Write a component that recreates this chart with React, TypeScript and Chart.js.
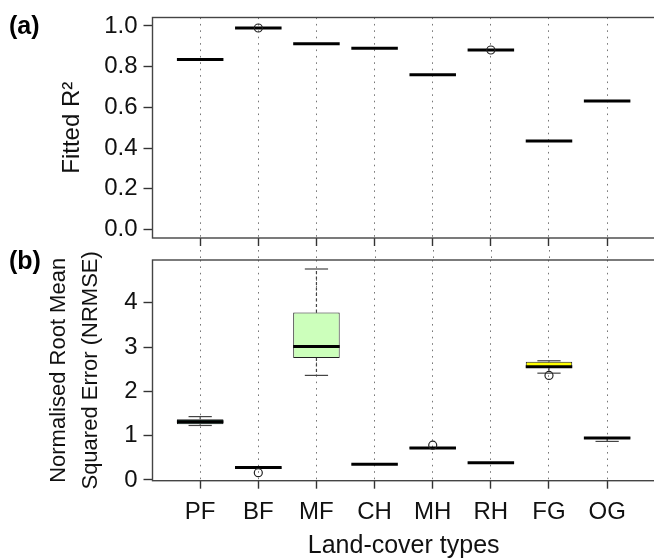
import React, { useEffect, useRef } from "react";
import { Chart, registerables } from "chart.js";

Chart.register(...registerables);

const FONT = "'Liberation Sans', Arial, Helvetica, sans-serif";

const categories = ["PF", "BF", "MF", "CH", "MH", "RH", "FG", "OG"];

// Panel (a): fitted R² (each box collapses to a single value)
const r2Lower = [0.835, 0.99, 0.913, 0.891, 0.761, 0.882, 0.435, 0.632];
const r2Q1 = [0.835, 0.99, 0.913, 0.891, 0.761, 0.882, 0.435, 0.632];
const r2Median = [0.835, 0.99, 0.913, 0.891, 0.761, 0.882, 0.435, 0.632];
const r2Q3 = [0.835, 0.99, 0.913, 0.891, 0.761, 0.882, 0.435, 0.632];
const r2Upper = [0.835, 0.99, 0.913, 0.891, 0.761, 0.882, 0.435, 0.632];
const r2OutlierCats = ["BF", "RH"];
const r2OutlierValues = [0.99, 0.882];
const r2Ticks = [0, 0.2, 0.4, 0.6, 0.8, 1.0];

// Panel (b): NRMSE
const nrmseLower = [1.23, 0.25, 2.36, 0.35, 0.7, 0.385, 2.41, 0.87];
const nrmseQ1 = [1.26, 0.25, 2.75, 0.35, 0.705, 0.385, 2.53, 0.93];
const nrmseMedian = [1.315, 0.28, 3.01, 0.355, 0.72, 0.39, 2.555, 0.95];
const nrmseQ3 = [1.37, 0.31, 3.78, 0.36, 0.745, 0.395, 2.665, 0.97];
const nrmseUpper = [1.43, 0.315, 4.76, 0.36, 0.75, 0.395, 2.69, 0.975];
const nrmseOutlierCats = ["BF", "MH", "FG"];
const nrmseOutlierValues = [0.165, 0.785, 2.36];
const nrmseTicks = [0, 1, 2, 3, 4];

const r2Fills = ["#000", "#000", "#000", "#000", "#000", "#000", "#000", "#000"];
const nrmseFills = ["#0d5236", "#0d5236", "#ccffbb", "#333333", "#333333", "#333333", "#ffff00", "#333333"];

const CANVAS_W = 660;
const PLOT_LEFT = 152.5;
const PLOT_RIGHT = 655.8;

type Spec = {
  canvasHeight: number;
  chartTop: number;
  xAxisHeight: number;
  yMin: number;
  yMax: number;
  yTicks: number[];
  yDecimals: number;
  yTitle: string | string[];
  yTitleSize: number;
  yTitlePad: number;
  showXLabels: boolean;
  xTitle: string;
  lower: number[];
  q1: number[];
  median: number[];
  q3: number[];
  upper: number[];
  fills: string[];
  boxBorder: number;
  outCats: string[];
  outVals: number[];
  panelLabel: string;
  panelLabelY: number;
  gridFromTop: boolean;
};

function line(ctx: CanvasRenderingContext2D, x1: number, y1: number, x2: number, y2: number) {
  ctx.beginPath();
  ctx.moveTo(x1, y1);
  ctx.lineTo(x2, y2);
  ctx.stroke();
}

function makePlugin(spec: Spec) {
  return {
    id: "boxplotExtras",
    beforeDatasetsDraw(chart: any) {
      const ctx: CanvasRenderingContext2D = chart.ctx;
      const xs = chart.scales.x;
      const ys = chart.scales.y;
      const meta = chart.getDatasetMeta(0);
      ctx.save();
      if (spec.gridFromTop) {
        ctx.strokeStyle = "#777";
        ctx.lineWidth = 1;
        ctx.setLineDash([1.6, 4.8]);
        categories.forEach((_, i) => {
          const x = Math.round(xs.getPixelForValue(i + 1)) + 0.5;
          line(ctx, x, 0, x, chart.chartArea.top);
        });
      }
      categories.forEach((_, i) => {
        const bar = meta.data[i];
        const w = bar ? bar.width : 40;
        const xc = xs.getPixelForValue(i + 1);
        const yLo = ys.getPixelForValue(spec.lower[i]);
        const yQ1 = ys.getPixelForValue(spec.q1[i]);
        const yQ3 = ys.getPixelForValue(spec.q3[i]);
        const yUp = ys.getPixelForValue(spec.upper[i]);
        ctx.strokeStyle = "#444";
        ctx.lineWidth = 1.2;
        ctx.setLineDash([3, 2.5]);
        if (Math.abs(yUp - yQ3) > 0.5) line(ctx, xc, yQ3, xc, yUp);
        if (Math.abs(yLo - yQ1) > 0.5) line(ctx, xc, yQ1, xc, yLo);
        ctx.setLineDash([]);
        if (Math.abs(yUp - yQ3) > 0.5) line(ctx, xc - w / 4, yUp, xc + w / 4, yUp);
        if (Math.abs(yLo - yQ1) > 0.5) line(ctx, xc - w / 4, yLo, xc + w / 4, yLo);
      });
      ctx.restore();
    },
    afterDatasetDraw(chart: any, args: any) {
      if (args.index !== 0) return;
      const ctx: CanvasRenderingContext2D = chart.ctx;
      const ys = chart.scales.y;
      const meta = chart.getDatasetMeta(0);
      ctx.save();
      ctx.strokeStyle = "#000";
      ctx.lineWidth = 3;
      ctx.lineCap = "butt";
      categories.forEach((_, i) => {
        const bar = meta.data[i];
        if (!bar) return;
        const y = ys.getPixelForValue(spec.median[i]);
        line(ctx, bar.x - bar.width / 2, y, bar.x + bar.width / 2, y);
      });
      ctx.restore();
    },
    afterDraw(chart: any) {
      const ctx: CanvasRenderingContext2D = chart.ctx;
      const a = chart.chartArea;
      ctx.save();
      ctx.strokeStyle = "#444";
      ctx.lineWidth = 1.4;
      ctx.strokeRect(a.left, a.top, a.right - a.left, a.bottom - a.top);
      ctx.fillStyle = "#000";
      ctx.font = `bold 25px ${FONT}`;
      ctx.textAlign = "left";
      ctx.textBaseline = "middle";
      ctx.fillText(spec.panelLabel, 9, spec.panelLabelY);
      ctx.restore();
    },
  };
}

function buildConfig(spec: Spec): any {
  const boxData = categories.map((_, i) => ({ x: i + 1, y: [spec.q1[i], spec.q3[i]] }));
  const outData = spec.outCats.map((c, k) => ({ x: categories.indexOf(c) + 1, y: spec.outVals[k] }));
  return {
    type: "bar",
    data: {
      datasets: [
        {
          type: "bar",
          data: boxData,
          backgroundColor: spec.fills,
          borderColor: "#222",
          borderWidth: spec.boxBorder,
          borderSkipped: false,
          categoryPercentage: 0.8,
          barPercentage: 1,
          order: 2,
        },
        {
          type: "scatter",
          data: outData,
          pointStyle: "circle",
          pointRadius: 4,
          pointBorderWidth: 1.2,
          borderColor: "#222",
          backgroundColor: "rgba(0,0,0,0)",
          order: 1,
        },
      ],
    },
    options: {
      responsive: false,
      animation: false,
      events: [],
      layout: { padding: { left: 0, right: CANVAS_W - PLOT_RIGHT, top: spec.chartTop, bottom: 0 } },
      plugins: { legend: { display: false }, tooltip: { enabled: false }, title: { display: false } },
      scales: {
        x: {
          type: "linear",
          min: 0.18,
          max: 8.82,
          offset: false,
          afterBuildTicks: (s: any) => {
            s.ticks = categories.map((_, i) => ({ value: i + 1 }));
          },
          afterFit: (s: any) => {
            s.height = spec.xAxisHeight;
            s.paddingLeft = 0;
            s.paddingRight = 0;
          },
          ticks: {
            display: spec.showXLabels,
            autoSkip: false,
            maxRotation: 0,
            padding: 9,
            color: "#111",
            font: { family: FONT, size: 24 },
            callback: (v: number) => categories[Math.round(v) - 1] ?? "",
          },
          grid: {
            display: true,
            offset: false,
            drawOnChartArea: true,
            drawTicks: true,
            tickLength: 8,
            color: "#777",
            lineWidth: 1,
            tickColor: "#333",
            tickWidth: 1.4,
          },
          border: { display: false, dash: [1.6, 4.8] },
          title: {
            display: !!spec.xTitle,
            text: spec.xTitle,
            color: "#111",
            font: { family: FONT, size: 25, lineHeight: 1.1 },
            padding: { top: 0, bottom: 0 },
          },
        },
        y: {
          type: "linear",
          position: "left",
          min: spec.yMin,
          max: spec.yMax,
          afterBuildTicks: (s: any) => {
            s.ticks = spec.yTicks.map((v) => ({ value: v }));
          },
          afterFit: (s: any) => {
            s.width = PLOT_LEFT;
            s.paddingTop = 0;
            s.paddingBottom = 0;
          },
          ticks: {
            padding: 6,
            color: "#111",
            font: { family: FONT, size: 24 },
            callback: (v: number) => Number(v).toFixed(spec.yDecimals),
          },
          grid: {
            drawOnChartArea: false,
            drawTicks: true,
            tickLength: 9,
            tickColor: "#333",
            tickWidth: 1.4,
          },
          border: { display: false },
          title: {
            display: true,
            text: spec.yTitle,
            color: "#111",
            font: { family: FONT, size: spec.yTitleSize, lineHeight: 1.45 },
            padding: { top: spec.yTitlePad, bottom: 0 },
          },
        },
      },
    },
    plugins: [makePlugin(spec)],
  };
}

const specA: Spec = {
  canvasHeight: 250,
  chartTop: 17.5,
  xAxisHeight: 12,
  yMin: -0.0417,
  yMax: 1.0417,
  yTicks: r2Ticks,
  yDecimals: 1,
  yTitle: "Fitted R²",
  yTitleSize: 24,
  yTitlePad: 54.6,
  showXLabels: false,
  xTitle: "",
  lower: r2Lower,
  q1: r2Q1,
  median: r2Median,
  q3: r2Q3,
  upper: r2Upper,
  fills: r2Fills,
  boxBorder: 0,
  outCats: r2OutlierCats,
  outVals: r2OutlierValues,
  panelLabel: "(a)",
  panelLabelY: 27,
  gridFromTop: false,
};

const specB: Spec = {
  canvasHeight: 310,
  chartTop: 10,
  xAxisHeight: 79.3,
  yMin: -0.016,
  yMax: 4.963,
  yTicks: nrmseTicks,
  yDecimals: 0,
  yTitle: ["Normalised Root Mean", "Squared Error (NRMSE)"],
  yTitleSize: 22,
  yTitlePad: 43,
  showXLabels: true,
  xTitle: "Land-cover types",
  lower: nrmseLower,
  q1: nrmseQ1,
  median: nrmseMedian,
  q3: nrmseQ3,
  upper: nrmseUpper,
  fills: nrmseFills,
  boxBorder: 1,
  outCats: nrmseOutlierCats,
  outVals: nrmseOutlierValues,
  panelLabel: "(b)",
  panelLabelY: 12,
  gridFromTop: true,
};

function Panel({ spec, top }: { spec: Spec; top: number }) {
  const ref = useRef<HTMLCanvasElement | null>(null);
  useEffect(() => {
    if (!ref.current) return;
    const chart = new Chart(ref.current, buildConfig(spec));
    return () => chart.destroy();
  }, [spec]);
  return (
    <canvas
      ref={ref}
      width={CANVAS_W}
      height={spec.canvasHeight}
      style={{ position: "absolute", left: 0, top, display: "block" }}
    />
  );
}

export default function App() {
  return (
    <div
      style={{
        position: "absolute",
        left: 0,
        top: 0,
        width: 654,
        height: 560,
        overflow: "hidden",
        background: "#fff",
      }}
    >
      <Panel spec={specA} top={0} />
      <Panel spec={specB} top={250} />
    </div>
  );
}
